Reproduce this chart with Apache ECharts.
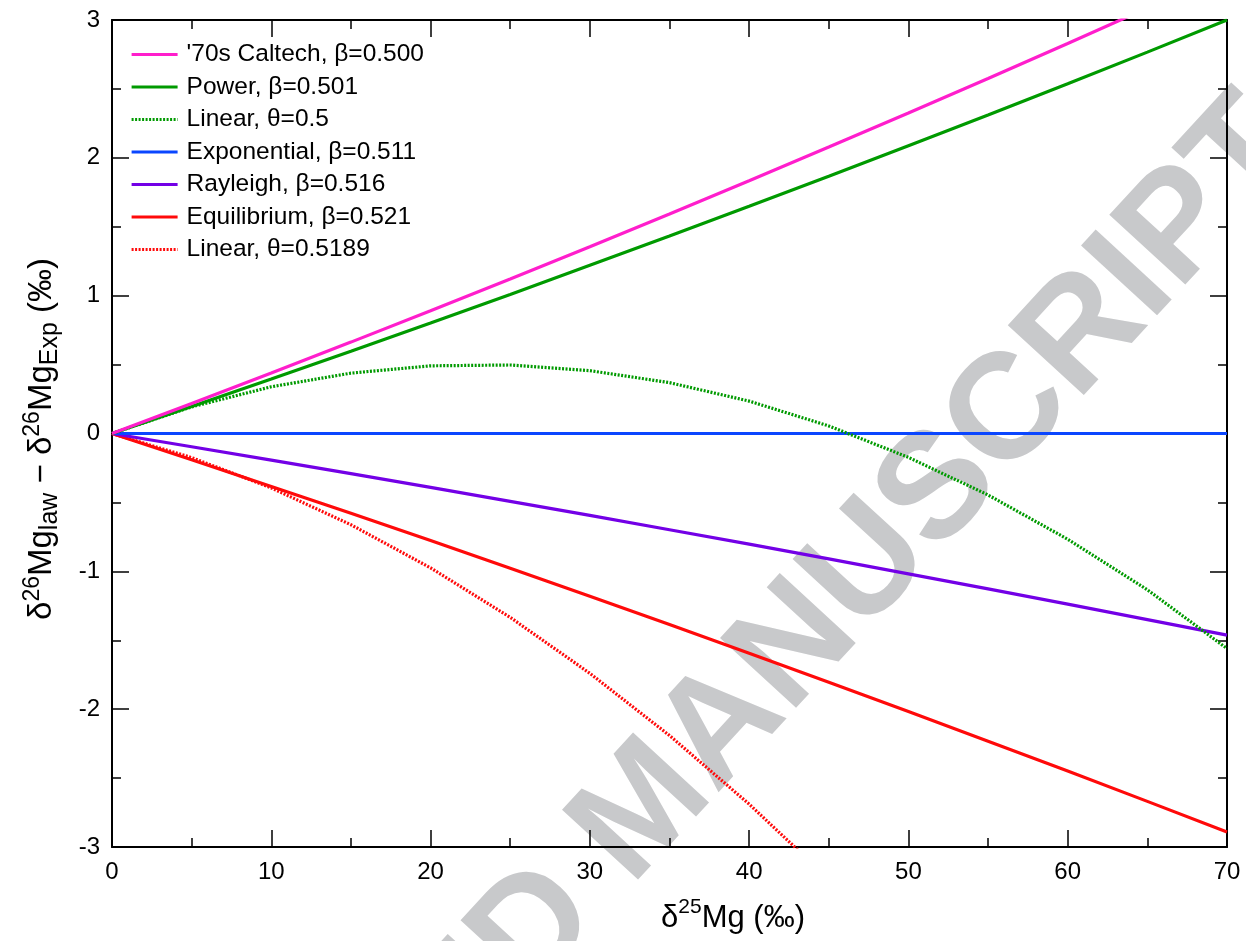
<!DOCTYPE html>
<html><head><meta charset="utf-8">
<script src="https://cdn.jsdelivr.net/npm/echarts@6/dist/echarts.min.js"></script>
<style>html,body{margin:0;padding:0;background:#fff}#c{width:1246px;height:941px}</style>
</head><body><div id="c"></div>
<script>
// δ25Mg values (‰)
const xValues = [0, 5, 10, 15, 20, 25, 30, 35, 40, 45, 50, 55, 60, 65, 70];
// δ26Mg_law − δ26Mg_Exp (‰)
const caltech70s   = [0, 0.218, 0.439, 0.663, 0.890, 1.121, 1.355, 1.593, 1.834, 2.078, 2.325, 2.576, 2.830, 3.087, 3.347];
const powerLaw     = [0, 0.196, 0.396, 0.597, 0.802, 1.009, 1.220, 1.432, 1.648, 1.866, 2.088, 2.311, 2.538, 2.767, 3.000];
const linear05     = [0, 0.193, 0.339, 0.438, 0.491, 0.497, 0.456, 0.369, 0.235, 0.055, -0.173, -0.446, -0.767, -1.134, -1.560];
const exponential  = [0, 0, 0, 0, 0, 0, 0, 0, 0, 0, 0, 0, 0, 0, 0];
const rayleigh     = [0, -0.096, -0.193, -0.291, -0.391, -0.492, -0.594, -0.698, -0.803, -0.910, -1.018, -1.127, -1.238, -1.350, -1.463];
const equilibrium  = [0, -0.191, -0.384, -0.579, -0.777, -0.978, -1.181, -1.386, -1.594, -1.804, -2.017, -2.232, -2.449, -2.669, -2.891];
const linear05189  = [0, -0.175, -0.395, -0.662, -0.975, -1.334, -1.740, -2.191, -2.689, -3.233, null, null, null, null, null];

const seriesNames = ["'70s Caltech, β=0.500", "Power, β=0.501", "Linear, θ=0.5", "Exponential, β=0.511", "Rayleigh, β=0.516", "Equilibrium, β=0.521", "Linear, θ=0.5189"];
const xTickLabels = ['0', '10', '20', '30', '40', '50', '60', '70'];
const yTickLabels = ['-3', '-2', '-1', '0', '1', '2', '3'];

const FONT = 'Liberation Sans, Arial, Helvetica, sans-serif';
const pairs = ys => xValues.map((x, i) => [x, ys[i]]);

function mk(name, ys, color, dotted, z) {
  return {
    name, type: 'line', data: pairs(ys), symbol: 'none', showSymbol: false, clip: true, z,
    connectNulls: false,
    lineStyle: { color, width: 3.2, type: dotted ? [2, 1.5] : 'solid' },
    itemStyle: { color },
    emphasis: { disabled: true }
  };
}

const chart = echarts.init(document.getElementById('c'), null, { renderer: 'canvas' });

const axisCommon = {
  axisLine: { show: true, onZero: false, lineStyle: { color: '#000', width: 2 } },
  axisTick: { show: true, inside: true, length: 17, lineStyle: { color: '#000', width: 1.5 } },
  minorTick: { show: true, splitNumber: 2, length: 9, lineStyle: { color: '#000', width: 1.5 } },
  splitLine: { show: false },
  minorSplitLine: { show: false }
};

chart.setOption({
  animation: false,
  backgroundColor: '#fff',
  textStyle: { fontFamily: FONT },
  grid: { left: 112, right: 19, top: 20, bottom: 94, containLabel: false },
  legend: {
    orient: 'vertical', left: 130, top: 42, padding: 0,
    itemWidth: 46, itemHeight: 20, itemGap: 7.5,
    data: seriesNames,
    selectedMode: false,
    itemStyle: { opacity: 0, borderWidth: 0 },
    lineStyle: { width: 3.2 },
    textStyle: { fontFamily: FONT, fontSize: 24.5, color: '#000', padding: [0, 0, 0, 4] }
  },
  xAxis: [
    Object.assign({}, axisCommon, {
      type: 'value', min: 0, max: 70, interval: 10, position: 'bottom',
      axisLabel: { show: true, fontSize: 24, color: '#000', margin: 13, fontFamily: FONT,
        formatter: v => xTickLabels[Math.round(v / 10)] }
    }),
    Object.assign({}, axisCommon, {
      type: 'value', min: 0, max: 70, interval: 10, position: 'top',
      axisLabel: { show: false }
    })
  ],
  yAxis: [
    Object.assign({}, axisCommon, {
      type: 'value', min: -3, max: 3, interval: 1, position: 'left',
      axisLabel: { show: true, fontSize: 24, color: '#000', margin: 12, fontFamily: FONT,
        formatter: v => yTickLabels[Math.round(v + 3)] }
    }),
    Object.assign({}, axisCommon, {
      type: 'value', min: -3, max: 3, interval: 1, position: 'right',
      axisLabel: { show: false }
    })
  ],
  graphic: [
    {
      type: 'text', z: -10,
      x: 646, y: 810, rotation: 47.4 * Math.PI / 180,
      silent: true,
      style: {
        text: 'ACCEPTED MANUSCRIPT', fill: '#c8c9cb',
        font: 'bold 150px ' + FONT,
        align: 'center', verticalAlign: 'middle'
      }
    },
    {
      type: 'text', x: 733, y: 918, silent: true,
      style: {
        text: '{m|δ}{sup|25}{m|Mg (‰)}',
        align: 'center', verticalAlign: 'middle', fill: '#000',
        rich: {
          m: { fontSize: 31, fontFamily: FONT, lineHeight: 42, verticalAlign: 'middle', fill: '#000' },
          sup: { fontSize: 21, fontFamily: FONT, lineHeight: 25, verticalAlign: 'top', fill: '#000' }
        }
      }
    },
    {
      type: 'text', x: 42, y: 439, rotation: Math.PI / 2, silent: true,
      style: {
        text: '{m|δ}{sup|26}{m|Mg}{sub|law}{m| − δ}{sup|26}{m|Mg}{sub|Exp}{m| (‰)}',
        align: 'center', verticalAlign: 'middle', fill: '#000',
        rich: {
          m: { fontSize: 33, fontFamily: FONT, lineHeight: 42, verticalAlign: 'middle', fill: '#000' },
          sup: { fontSize: 23, fontFamily: FONT, lineHeight: 25, verticalAlign: 'top', fill: '#000' },
          sub: { fontSize: 25, fontFamily: FONT, lineHeight: 24, verticalAlign: 'bottom', fill: '#000' }
        }
      }
    }
  ],
  series: [
    mk(seriesNames[0], caltech70s, '#ff1ecc', false, 9),
    mk(seriesNames[1], powerLaw, '#009a00', false, 8),
    mk(seriesNames[2], linear05, '#009a00', true, 7),
    mk(seriesNames[3], exponential, '#0a46ff', false, 6),
    mk(seriesNames[4], rayleigh, '#7300e6', false, 5),
    mk(seriesNames[5], equilibrium, '#ff0a0a', false, 4),
    mk(seriesNames[6], linear05189, '#ff0a0a', true, 3)
  ]
});
</script>
</body></html>
